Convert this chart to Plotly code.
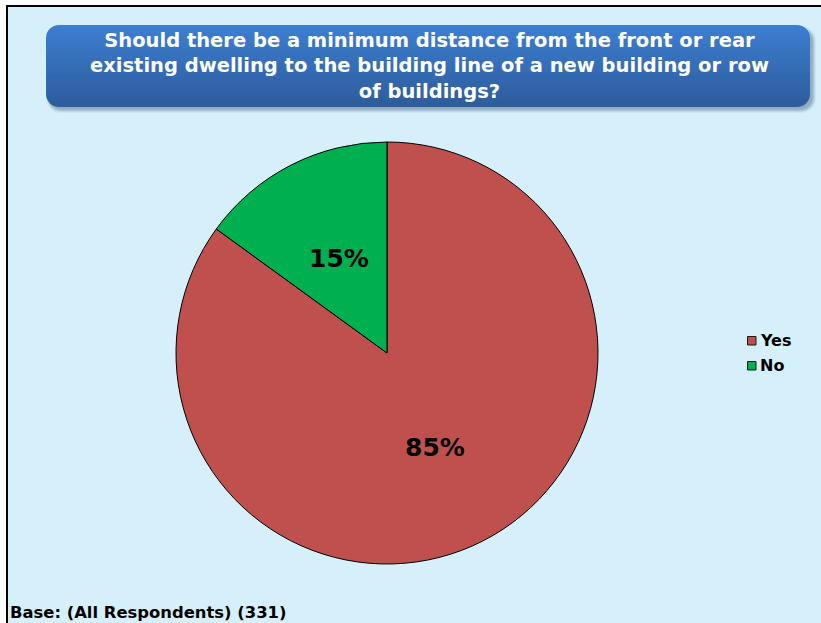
import base64
import math
import plotly.graph_objects as go

# Survey answers
labels = ["Yes", "No"]
values = [85, 15]
colors = ["#C0504D", "#00B050"]

title_lines = [
    "Should there be a minimum distance from the front or rear",
    "existing dwelling to the building line of a new building or row",
    "of buildings?",
]
base_note = "Base: (All Respondents) (331)"

W, H = 821, 623
FONT = "DejaVu Sans"


def px_x(x):
    return x / W


def px_y(y):
    return 1 - y / H


# Pie placement in pixels
cx, cy, r = 387, 353, 211

fig = go.Figure()
fig.add_trace(
    go.Pie(
        labels=labels,
        values=values,
        marker=dict(colors=colors, line=dict(color="#000000", width=1)),
        sort=False,
        direction="clockwise",
        rotation=0,
        textinfo="none",
        hoverinfo="label+percent",
        showlegend=False,
        domain=dict(x=[px_x(cx - r), px_x(cx + r)], y=[px_y(cy + r), px_y(cy - r)]),
    )
)

annotations = []
shapes = [
    # chart area with its frame
    dict(
        type="rect", xref="paper", yref="paper",
        x0=px_x(7), x1=1.05, y0=-0.05, y1=px_y(6),
        fillcolor="#D5F0FB", line=dict(color="#000000", width=2),
        layer="below",
    )
]

# Percentage labels placed half way out along each slice's bisector
total = sum(values)
start = 0.0
for lab, v in zip(labels, values):
    mid = (start + v / 2) / total * 2 * math.pi
    start += v
    lx = cx + 0.5 * r * math.sin(mid)
    ly = cy - 0.5 * r * math.cos(mid)
    annotations.append(
        dict(
            x=px_x(lx), y=px_y(ly), xref="paper", yref="paper",
            text=f"<b>{round(v / total * 100)}%</b>", showarrow=False,
            font=dict(family=FONT, size=25, color="#000000"),
            xanchor="center", yanchor="middle",
        )
    )

# Title
annotations.append(
    dict(
        x=px_x(429), y=px_y(66), xref="paper", yref="paper",
        text="<b>" + "<br>".join(title_lines) + "</b>", showarrow=False,
        font=dict(family=FONT, size=19.5, color="#FFFFFF"),
        xanchor="center", yanchor="middle", align="center",
    )
)

# Legend: small squares with bold labels
for i, (lab, col) in enumerate(zip(labels, colors)):
    ly = 340.5 + 25 * i
    shapes.append(
        dict(
            type="rect", xref="paper", yref="paper",
            x0=px_x(747.5), x1=px_x(756), y0=px_y(ly + 4.5), y1=px_y(ly - 4),
            fillcolor=col, line=dict(color="#1A1A1A", width=1), layer="above",
        )
    )
    annotations.append(
        dict(
            x=px_x(758), y=px_y(ly), xref="paper", yref="paper",
            text=f"<b>{lab}</b>", showarrow=False,
            font=dict(family=FONT, size=16, color="#000000"),
            xanchor="left", yanchor="middle",
        )
    )

# Base note
annotations.append(
    dict(
        x=px_x(8), y=px_y(612), xref="paper", yref="paper",
        text=f"<b>{base_note}</b>", showarrow=False,
        font=dict(family=FONT, size=16.4, color="#000000"),
        xanchor="left", yanchor="middle",
    )
)

# Rounded gradient banner for the title
bw, bh = 770, 88
svg = f"""<svg xmlns='http://www.w3.org/2000/svg' width='{bw}' height='{bh}' viewBox='0 0 {bw} {bh}'>
<defs>
<linearGradient id='g' x1='0' y1='0' x2='0' y2='1'>
<stop offset='0' stop-color='#3D7ED2'/>
<stop offset='1' stop-color='#2D5C9C'/>
</linearGradient>
<filter id='s' x='-5%' y='-10%' width='110%' height='130%'>
<feGaussianBlur stdDeviation='1.5'/>
</filter>
</defs>
<rect x='2' y='3' width='{bw - 4}' height='{bh - 5}' rx='13' ry='13' fill='#5A7590' opacity='0.55' filter='url(#s)'/>
<rect x='0' y='0' width='{bw - 6}' height='{bh - 6}' rx='13' ry='13' fill='url(#g)'/>
</svg>"""
src = "data:image/svg+xml;base64," + base64.b64encode(svg.encode()).decode()

fig.update_layout(
    width=W,
    height=H,
    margin=dict(l=0, r=0, t=0, b=0),
    paper_bgcolor="#FFFFFF",
    plot_bgcolor="#FFFFFF",
    showlegend=False,
    shapes=shapes,
    images=[
        dict(
            source=src, xref="paper", yref="paper",
            x=px_x(46), y=px_y(25), sizex=bw / W, sizey=bh / H,
            xanchor="left", yanchor="top", sizing="stretch", layer="above",
        )
    ],
    annotations=annotations,
)

fig.write_html("out.html")
